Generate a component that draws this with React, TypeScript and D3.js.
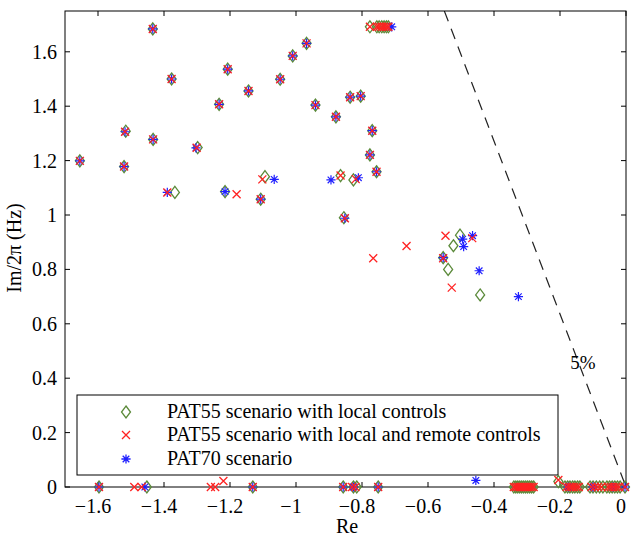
import React from "react";
import * as d3 from "d3";

// ---- data (Re, Im/2π) ----
const pat55Local: [number, number][] = [
  [-1.434, 1.684], [-1.377, 1.5], [-1.233, 1.407], [-1.516, 1.308], [-1.433, 1.278],
  [-1.655, 1.199], [-1.521, 1.178], [-1.298, 1.248], [-1.367, 1.083], [-1.207, 1.536],
  [-1.144, 1.456], [-1.048, 1.499], [-1.01, 1.585], [-0.968, 1.631], [-0.941, 1.404],
  [-0.879, 1.361], [-0.836, 1.433], [-0.804, 1.437], [-0.769, 1.31], [-0.776, 1.221],
  [-0.756, 1.159], [-1.215, 1.086], [-1.107, 1.058], [-1.094, 1.141], [-0.865, 1.145],
  [-0.826, 1.129], [-0.855, 0.99], [-0.554, 0.843], [-0.503, 0.926], [-0.523, 0.887],
  [-0.539, 0.8], [-0.442, 0.706],
  [-0.776, 1.692], [-0.755, 1.692], [-0.748, 1.692], [-0.74, 1.692], [-0.733, 1.692], [-0.726, 1.692], [-0.72, 1.692],
  [-1.597, 0], [-1.452, 0], [-1.131, 0], [-0.857, 0], [-0.826, 0], [-0.816, 0], [-0.751, 0], [-0.205, 0.02],
  [-0.34, 0], [-0.334, 0], [-0.328, 0], [-0.322, 0], [-0.316, 0], [-0.31, 0], [-0.304, 0], [-0.298, 0], [-0.292, 0], [-0.286, 0], [-0.28, 0],
  [-0.185, 0], [-0.177, 0], [-0.17, 0], [-0.162, 0], [-0.155, 0], [-0.147, 0], [-0.14, 0],
  [-0.109, 0], [-0.1, 0], [-0.09, 0], [-0.08, 0], [-0.07, 0],
  [-0.058, 0], [-0.05, 0], [-0.042, 0], [-0.034, 0], [-0.026, 0], [-0.018, 0], [-0.003, 0],
];

const pat55Remote: [number, number][] = [
  [-1.434, 1.684], [-1.377, 1.5], [-1.233, 1.407], [-1.518, 1.306], [-1.433, 1.278],
  [-1.655, 1.199], [-1.521, 1.178], [-1.301, 1.247], [-1.39, 1.083], [-1.207, 1.536],
  [-1.144, 1.456], [-1.048, 1.499], [-1.01, 1.585], [-0.968, 1.631], [-0.941, 1.404],
  [-0.879, 1.361], [-0.836, 1.433], [-0.804, 1.437], [-0.769, 1.31], [-0.776, 1.221],
  [-0.756, 1.159], [-1.18, 1.076], [-1.107, 1.058], [-1.102, 1.131], [-0.865, 1.145],
  [-0.819, 1.132], [-0.852, 0.988], [-0.766, 0.841], [-0.665, 0.886], [-0.547, 0.924],
  [-0.466, 0.915], [-0.554, 0.841], [-0.528, 0.733],
  [-0.776, 1.692], [-0.755, 1.692], [-0.748, 1.692], [-0.74, 1.692], [-0.733, 1.692], [-0.726, 1.692], [-0.72, 1.692],
  [-1.597, 0], [-1.49, 0], [-1.468, 0], [-1.258, 0], [-1.245, 0], [-1.22, 0.022], [-1.131, 0],
  [-0.857, 0], [-0.83, 0], [-0.82, 0], [-0.751, 0], [-0.205, 0.026],
  [-0.34, 0], [-0.334, 0], [-0.328, 0], [-0.322, 0], [-0.316, 0], [-0.31, 0], [-0.304, 0], [-0.298, 0], [-0.292, 0], [-0.286, 0], [-0.28, 0],
  [-0.18, 0], [-0.172, 0], [-0.165, 0], [-0.158, 0], [-0.15, 0], [-0.143, 0],
  [-0.105, 0], [-0.095, 0], [-0.085, 0], [-0.075, 0],
  [-0.054, 0], [-0.046, 0], [-0.038, 0], [-0.03, 0], [-0.022, 0], [-0.003, 0],
];

const pat70: [number, number][] = [
  [-1.434, 1.684], [-1.377, 1.5], [-1.233, 1.407], [-1.518, 1.306], [-1.433, 1.278],
  [-1.655, 1.199], [-1.521, 1.178], [-1.303, 1.247], [-1.39, 1.083], [-1.207, 1.536],
  [-1.144, 1.456], [-1.048, 1.499], [-1.01, 1.585], [-0.968, 1.631], [-0.941, 1.404],
  [-0.879, 1.361], [-0.836, 1.433], [-0.804, 1.437], [-0.769, 1.31], [-0.776, 1.221],
  [-0.756, 1.159], [-1.215, 1.086], [-1.107, 1.058], [-1.066, 1.131], [-0.894, 1.129],
  [-0.811, 1.137], [-0.852, 0.988], [-0.554, 0.843], [-0.495, 0.911], [-0.492, 0.884],
  [-0.465, 0.924], [-0.445, 0.795], [-0.326, 0.7], [-0.455, 0.024], [-0.71, 1.692],
  [-1.597, 0], [-1.458, 0], [-1.131, 0], [-0.857, 0], [-0.826, 0], [-0.751, 0],
  [-0.175, 0], [-0.1, 0], [-0.04, 0], [-0.003, 0],
];

const xTicks = [-1.6, -1.4, -1.2, -1, -0.8, -0.6, -0.4, -0.2, 0];
const yTicks = [0, 0.2, 0.4, 0.6, 0.8, 1, 1.2, 1.4, 1.6];
const legendLabels = [
  "PAT55 scenario with local controls",
  "PAT55 scenario with local and remote controls",
  "PAT70 scenario",
];
const dampingRatio = 0.05;

const W = 635, H = 537;
const L = 65, R = 626, T = 11, B = 487;
const FONT = "'Liberation Serif', 'Times New Roman', serif";
const GREEN = "#5b8a3a", RED = "#ff2222", BLUE = "#1f1fff";

const x = d3.scaleLinear().domain([-1.7, 0]).range([L, R]);
const y = d3.scaleLinear().domain([0, 1.75]).range([B, T]);

const diamondPath = "M0,-6L4.5,0L0,6L-4.5,0Z";
const xPath = "M-4,-4L4,4M-4,4L4,-4";
const starPath = "M-4.6,0L4.6,0M0,-4.6L0,4.6M-3.3,-3.3L3.3,3.3M-3.3,3.3L3.3,-3.3";

const fmt = (v: number) => {
  const s = d3.format("~g")(v);
  return s.replace("-", "\u2212");
};

export default function App() {
  // damping line: sigma = -zeta * 2*pi*f / sqrt(1 - zeta^2)
  const k = dampingRatio / Math.sqrt(1 - dampingRatio * dampingRatio) * 2 * Math.PI;
  const fTop = y.domain()[1];
  const line = d3.line<[number, number]>().x(d => x(d[0])).y(d => y(d[1]))([
    [-k * fTop, fTop],
    [0, 0],
  ]) as string;

  return (
    <svg width={W} height={H} style={{ position: "absolute", left: 0, top: 0, background: "#fff" }}
      fontFamily={FONT}>
      <defs>
        <clipPath id="plot"><rect x={L} y={T} width={R - L} height={B - T} /></clipPath>
      </defs>
      <rect x={0} y={0} width={W} height={H} fill="#fff" />
      {/* damping line */}
      <path d={line} stroke="#222" strokeWidth={1.2} strokeDasharray="11,8" fill="none" clipPath="url(#plot)" />
      <text x={583} y={369} fontSize={19} textAnchor="middle">5%</text>

      {/* legend */}
      <rect x={77} y={395} width={481} height={80} fill="#fff" stroke="#000" strokeWidth={1} />
      {[diamondPath, xPath, starPath].map((p, i) => {
        const cy = [412, 435, 459][i];
        const col = [GREEN, RED, BLUE][i];
        return (
          <g key={"lg" + i}>
            <path d={p} transform={`translate(126,${cy})`} fill="none" stroke={col} strokeWidth={1.3} />
            <text x={167} y={cy + 6} fontSize={20}>{legendLabels[i]}</text>
          </g>
        );
      })}

      {/* box */}
      <rect x={L} y={T} width={R - L} height={B - T} fill="none" stroke="#000" strokeWidth={1} />
      {xTicks.map(t => (
        <g key={"xt" + t}>
          <line x1={x(t)} x2={x(t)} y1={B} y2={B - 5} stroke="#000" />
          <line x1={x(t)} x2={x(t)} y1={T} y2={T + 5} stroke="#000" />
          <text x={x(t) - 5} y={B + 26} fontSize={20} textAnchor="middle">{fmt(t)}</text>
        </g>
      ))}
      {yTicks.map(t => (
        <g key={"yt" + t}>
          <line x1={L} x2={L + 5} y1={y(t)} y2={y(t)} stroke="#000" />
          <line x1={R} x2={R - 5} y1={y(t)} y2={y(t)} stroke="#000" />
          <text x={L - 8} y={y(t) + 7} fontSize={20} textAnchor="end">{fmt(t)}</text>
        </g>
      ))}

      {/* markers (drawn over the axes, not clipped) */}
      <g>
        {pat55Local.map((d, i) => (
          <path key={"d" + i} d={diamondPath} transform={`translate(${x(d[0])},${y(d[1])})`}
            fill="none" stroke={GREEN} strokeWidth={1.3} />
        ))}
        {pat70.map((d, i) => (
          <path key={"s" + i} d={starPath} transform={`translate(${x(d[0])},${y(d[1])})`}
            fill="none" stroke={BLUE} strokeWidth={1.2} />
        ))}
        {pat55Remote.map((d, i) => (
          <path key={"x" + i} d={xPath} transform={`translate(${x(d[0])},${y(d[1])})`}
            fill="none" stroke={RED} strokeWidth={1.3} />
        ))}
      </g>

      <text x={347} y={533} fontSize={20} textAnchor="middle">Re</text>
      <text transform={`translate(21,${248}) rotate(-90)`} fontSize={20} textAnchor="middle">
        Im/2π  (Hz)
      </text>
    </svg>
  );
}
